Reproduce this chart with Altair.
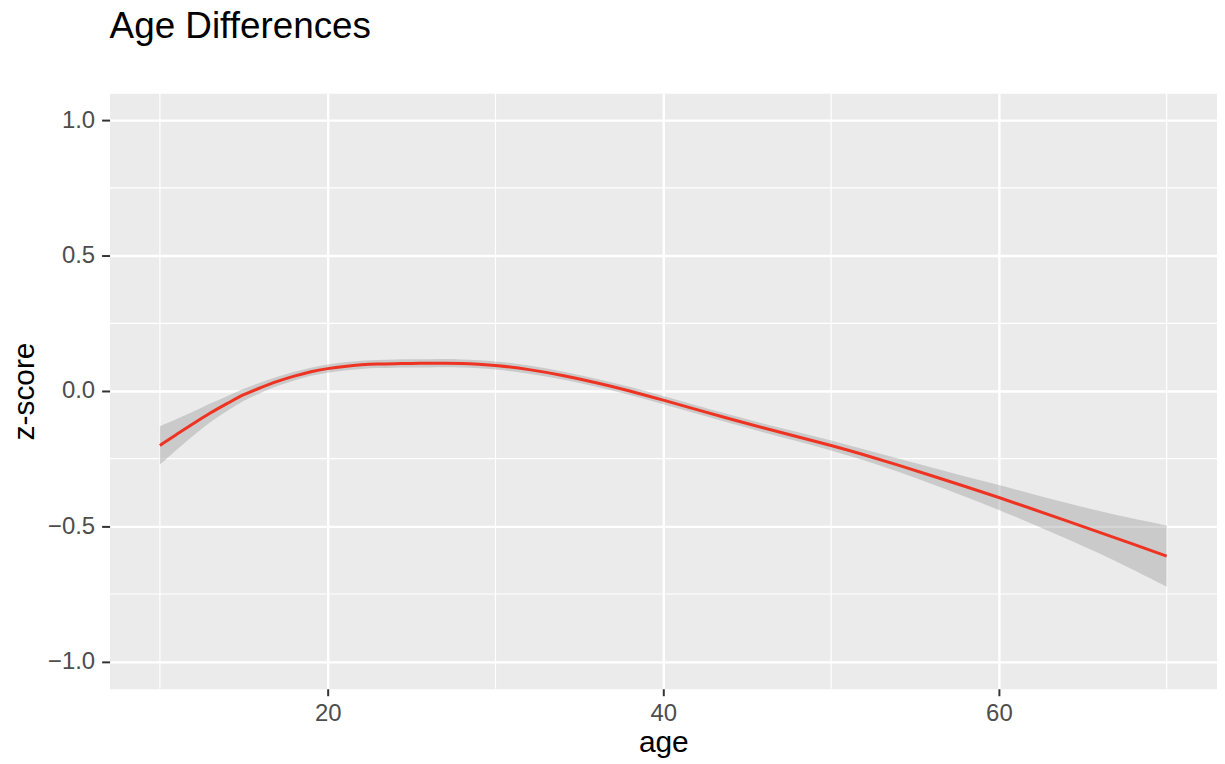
import altair as alt
import pandas as pd

# ---- data ----
ages = [10, 11, 12, 13, 14, 15, 16, 17, 18, 19, 20, 21, 22, 23, 24, 25, 26, 27, 28, 29, 30,
        32, 34, 36, 38, 40, 42, 44, 46, 48, 50, 52, 54, 56, 58, 60, 62, 64, 66, 68, 70]
fit = [-0.201, -0.160, -0.120, -0.080, -0.047, -0.012, 0.012, 0.036, 0.055, 0.072, 0.083,
       0.091, 0.097, 0.100, 0.101, 0.102, 0.102, 0.103, 0.102, 0.099, 0.095,
       0.080, 0.058, 0.031, 0.001, -0.034, -0.069, -0.104, -0.137, -0.169, -0.201,
       -0.236, -0.274, -0.313, -0.353, -0.393, -0.436, -0.479, -0.522, -0.566, -0.610]
ci_half = [0.071, 0.056, 0.044, 0.034, 0.027, 0.022, 0.019, 0.017, 0.016, 0.015, 0.015,
           0.015, 0.015, 0.015, 0.015, 0.015, 0.015, 0.015, 0.015, 0.015, 0.015,
           0.015, 0.015, 0.015, 0.015, 0.015, 0.015, 0.016, 0.016, 0.017, 0.018,
           0.020, 0.024, 0.030, 0.037, 0.046, 0.055, 0.066, 0.078, 0.094, 0.113]

x_major = [20, 40, 60]
x_minor = [10, 30, 50, 70]
y_major = [-1.0, -0.5, 0.0, 0.5, 1.0]
y_minor = [-0.75, -0.25, 0.25, 0.75]

df = pd.DataFrame({
    "age": ages,
    "fit": fit,
    "lo": [f - h for f, h in zip(fit, ci_half)],
    "hi": [f + h for f, h in zip(fit, ci_half)],
})

FONT = "Liberation Sans"
xscale = alt.Scale(domain=[7, 73], nice=False, zero=False)
yscale = alt.Scale(domain=[-1.1, 1.1], nice=False, zero=False)

xaxis = alt.Axis(
    values=x_major, title="age", grid=True, gridColor="white", gridWidth=2.4,
    domain=False, tickSize=7, tickWidth=2, tickColor="#333333",
    labelFont=FONT, labelFontSize=24, labelColor="#4D4D4D", labelPadding=6,
    titleFont=FONT, titleFontSize=30, titleFontWeight="normal", titleColor="black",
    titlePadding=2, labelFlush=False,
)
yaxis = alt.Axis(
    values=y_major, title="z-score", grid=True, gridColor="white", gridWidth=2.4,
    domain=False, tickSize=8, tickWidth=2, tickColor="#333333",
    labelFont=FONT, labelFontSize=24, labelColor="#4D4D4D", labelPadding=7,
    labelExpr="replace(format(datum.value, '.1f'), '-', '\u2212')",
    titleFont=FONT, titleFontSize=30, titleFontWeight="normal", titleColor="black",
    titlePadding=8, labelFlush=False,
)

minor_x = alt.Chart(pd.DataFrame({"v": x_minor})).mark_rule(
    color="white", strokeWidth=1.2
).encode(x=alt.X("v:Q", scale=xscale, axis=xaxis))

minor_y = alt.Chart(pd.DataFrame({"v": y_minor})).mark_rule(
    color="white", strokeWidth=1.2
).encode(y=alt.Y("v:Q", scale=yscale, axis=yaxis))

band = alt.Chart(df).mark_area(color="#999999", opacity=0.4, interpolate="basis").encode(
    x=alt.X("age:Q", scale=xscale, axis=xaxis),
    y=alt.Y("lo:Q", scale=yscale, axis=yaxis),
    y2="hi:Q",
)

line = alt.Chart(df).mark_line(color="#EE3322", strokeWidth=3, interpolate="basis").encode(
    x=alt.X("age:Q", scale=xscale, axis=xaxis),
    y=alt.Y("fit:Q", scale=yscale, axis=yaxis),
)

chart = alt.layer(minor_x, minor_y, band, line).properties(
    width=1112,
    height=598,
    padding={"left": 102, "top": 84, "right": 0, "bottom": 72},
    autosize=alt.AutoSizeParams(type="none"),
    title=alt.TitleParams(
        "Age Differences", anchor="start", frame="group", font=FONT,
        fontSize=37, fontWeight="normal", color="black", offset=47,
    ),
).configure(
    background="white",
    view=alt.ViewConfig(fill="#EBEBEB", stroke="transparent"),
)

chart.save("out.html", embed_options={"renderer": "svg", "actions": False})
